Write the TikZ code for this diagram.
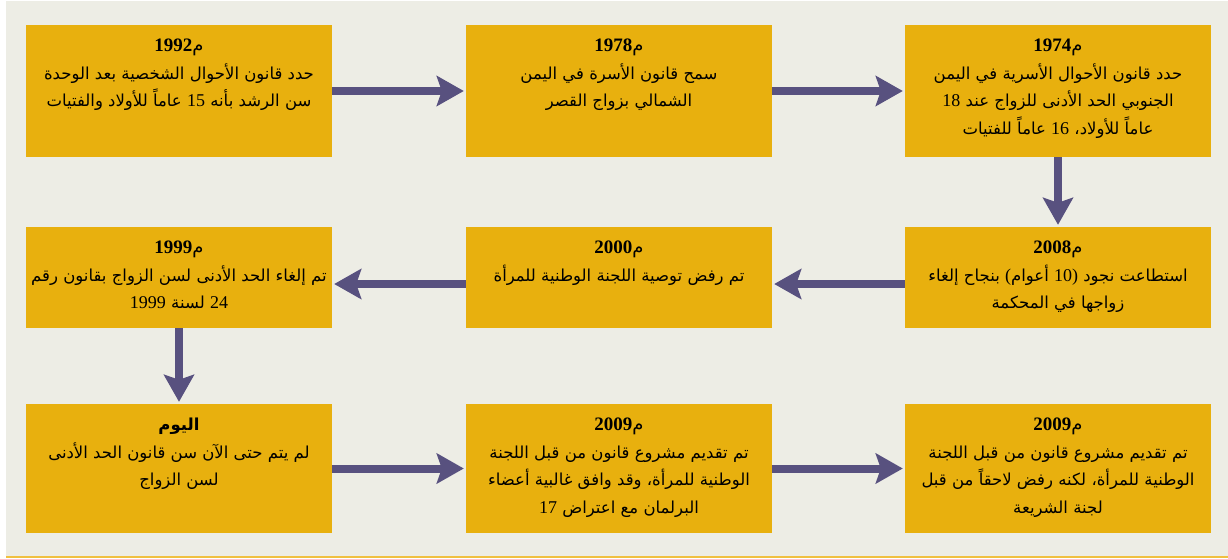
\documentclass[tikz,border=0pt]{standalone}
\usepackage{fontspec}
\usetikzlibrary{arrows.meta}
\TeXXeTstate=1
\newfontfamily\arabicfont[Script=Arabic]{DejaVu Sans}
\newfontfamily\numfont{Liberation Serif}
\definecolor{bgc}{HTML}{EDEDE5}
\definecolor{boxc}{HTML}{E8B00E}
\definecolor{arrc}{HTML}{58517F}
\definecolor{linec}{HTML}{F0C040}
\newcommand\arl[1]{\beginR #1\endR}
\newcommand\dg[1]{\beginL{\numfont\fontsize{18}{27}\selectfont #1}\endL}
\newcommand\yr[1]{\beginL{\numfont\bfseries\fontsize{19}{27}\selectfont #1}{\fontsize{18}{27}\selectfont م}\endL}
\begin{document}
\begin{tikzpicture}[x=1pt,y=-1pt,
  box/.style={fill=boxc, draw=none, minimum width=306pt, inner sep=0pt},
  txt/.style={anchor=north, align=center, inner sep=0pt, text=black,
    font=\arabicfont\fontsize{16.5}{27.5}\selectfont},
  arr/.style={draw=arrc, line width=8pt, -{Stealth[length=27pt,width=30pt,inset=5pt]}, shorten >=2pt}]
\useasboundingbox (0,0) rectangle (1228,559);
\fill[bgc] (6,1) rectangle (1228,556);
\draw[linec, line width=2pt] (6,557) -- (1228,557);
% row 1
\node[box, minimum height=132pt] (b1992) at (179,91) {};
\node[box, minimum height=132pt] (b1978) at (619,91) {};
\node[box, minimum height=132pt] (b1974) at (1058,91) {};
% row 2
\node[box, minimum height=101pt] (b1999) at (179,277.5) {};
\node[box, minimum height=101pt] (b2000) at (619,277.5) {};
\node[box, minimum height=101pt] (b2008) at (1058,277.5) {};
% row 3
\node[box, minimum height=129pt] (btoday) at (179,468.5) {};
\node[box, minimum height=129pt] (b2009a) at (619,468.5) {};
\node[box, minimum height=129pt] (b2009b) at (1058,468.5) {};
% texts
\node[txt] (t1992) at ([yshift=-14pt]b1992.north) {\yr{1992}\\
  \arl{حدد قانون الأحوال الشخصية بعد الوحدة}\\
  \arl{سن الرشد بأنه \dg{15} عاماً للأولاد والفتيات}};
\node[txt] (t1978) at ([yshift=-14pt]b1978.north) {\yr{1978}\\
  \arl{سمح قانون الأسرة في اليمن}\\
  \arl{الشمالي بزواج القصر}};
\node[txt] (t1974) at ([yshift=-14pt]b1974.north) {\yr{1974}\\
  \arl{حدد قانون الأحوال الأسرية في اليمن}\\
  \arl{الجنوبي الحد الأدنى للزواج عند \dg{18}}\\
  \arl{عاماً للأولاد، \dg{16} عاماً للفتيات}};
\node[txt] (t2008) at ([yshift=-14pt]b2008.north) {\yr{2008}\\
  \arl{استطاعت نجود {\numfont\fontsize{18}{27}\selectfont)}\dg{10} أعوام{\numfont\fontsize{18}{27}\selectfont(} بنجاح إلغاء}\\
  \arl{زواجها في المحكمة}};
\node[txt] (t2000) at ([yshift=-14pt]b2000.north) {\yr{2000}\\
  \arl{تم رفض توصية اللجنة الوطنية للمرأة}};
\node[txt] (t1999) at ([yshift=-14pt]b1999.north) {\yr{1999}\\
  \arl{تم إلغاء الحد الأدنى لسن الزواج بقانون رقم}\\
  \arl{\dg{24} لسنة \dg{1999}}};
\node[txt] (ttoday) at ([yshift=-14pt]btoday.north) {{\bfseries\arl{اليوم}}\\
  \arl{لم يتم حتى الآن سن قانون الحد الأدنى}\\
  \arl{لسن الزواج}};
\node[txt] (t2009a) at ([yshift=-14pt]b2009a.north) {\yr{2009}\\
  \arl{تم تقديم مشروع قانون من قبل اللجنة}\\
  \arl{الوطنية للمرأة، وقد وافق غالبية أعضاء}\\
  \arl{البرلمان مع اعتراض \dg{17}}};
\node[txt] (t2009b) at ([yshift=-14pt]b2009b.north) {\yr{2009}\\
  \arl{تم تقديم مشروع قانون من قبل اللجنة}\\
  \arl{الوطنية للمرأة، لكنه رفض لاحقاً من قبل}\\
  \arl{لجنة الشريعة}};
% arrows
\draw[arr] (b1992.east) -- (b1978.west);
\draw[arr] (b1978.east) -- (b1974.west);
\draw[arr] (b1974.south) -- (b2008.north);
\draw[arr] ([yshift=-6.5pt]b2008.west) -- ([yshift=-6.5pt]b2000.east);
\draw[arr] ([yshift=-6.5pt]b2000.west) -- ([yshift=-6.5pt]b1999.east);
\draw[arr] (b1999.south) -- (btoday.north);
\draw[arr] (btoday.east) -- (b2009a.west);
\draw[arr] (b2009a.east) -- (b2009b.west);
\end{tikzpicture}
\end{document}
